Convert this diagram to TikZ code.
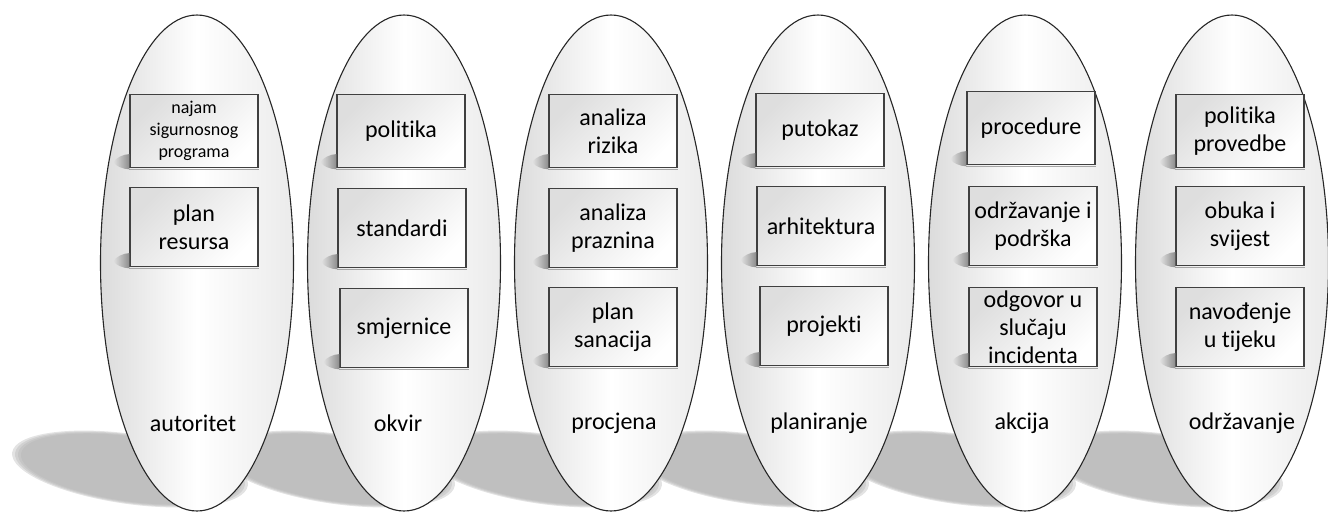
\documentclass[tikz,border=0pt]{standalone}
\usepackage{fontspec}
\setmainfont{Carlito}[Ligatures={NoCommon}]
\usetikzlibrary{shapes.geometric, fadings, positioning}
\tikzset{
  phase/.style={ellipse, draw=black!85, line width=0.55pt, inner sep=0pt,
    minimum width=96.5pt, minimum height=248pt,
    left color=black!14, right color=black!8, middle color=white},
  item/.style={rectangle, draw=black!75, line width=0.6pt, inner sep=0pt,
    minimum width=64pt, minimum height=39.5pt, align=center,
    font=\fontsize{12}{14}\selectfont,
    top color=black!13, bottom color=white, shading angle=45},
  toprow/.style={minimum height=36.5pt},
  phaselabel/.style={font=\fontsize{12}{14}\selectfont},
  itemshade/.style={fill=black!45, path fading=west},
}
\begin{document}
\begin{tikzpicture}[x=0.5pt, y=-0.5pt]
  \useasboundingbox (0,0) rectangle (1328,515);

  % ground shadows of the phases
  \foreach \cx in {197,404,611,818,1025,1232}{
    \foreach \s in {1,0.975,0.95,0.925}
      \fill[black!30, opacity=0.36, rotate around={-8:(\cx-67,469)}]
        (\cx-67,469) ellipse [x radius=119*\s, y radius=35*\s];
  }

  % phases
  \foreach \cx/\n in {197/aut,404/okv,611/pro,818/pla,1025/akc,1232/odr}
    \node[phase] (\n) at (\cx,263) {};

  \node[phaselabel] (laut) at (193,423) {autoritet};
  \node[phaselabel] (lokv) at (398,423) {okvir};
  \node[phaselabel] (lpro) at (614,423) {procjena};
  \node[phaselabel] (lpla) at (819,423) {planiranje};
  \node[phaselabel] (lakc) at (1022,423) {akcija};
  \node[phaselabel] (lodr) at (1242,423) {održavanje};

  % activities
  \node[item, toprow, font=\fontsize{9}{11}\selectfont] (aut1) at (194,131) {najam\\sigurnosnog\\programa};
  \node[item] (aut2) at (194,227) {plan\\resursa};

  \node[item, toprow] (okv1) at (401,131) {politika};
  \node[item] (okv2) at (402,228) {standardi};
  \node[item] (okv3) at (404,328) {smjernice};

  \node[item, toprow] (pro1) at (613,131) {analiza\\rizika};
  \node[item] (pro2) at (613,228) {analiza\\praznina};
  \node[item] (pro3) at (613,327) {plan\\sanacija};

  \node[item, toprow] (pla1) at (820,130) {putokaz};
  \node[item] (pla2) at (821,226) {arhitektura};
  \node[item] (pla3) at (824,326) {projekti};

  \node[item, toprow] (akc1) at (1031,128) {procedure};
  \node[item] (akc2) at (1033,226) {održavanje i\\podrška};
  \node[item] (akc3) at (1033,327) {odgovor u\\slučaju\\incidenta};

  \node[item, toprow] (odr1) at (1240,131) {politika\\provedbe};
  \node[item] (odr2) at (1240,226) {obuka i\\svijest};
  \node[item] (odr3) at (1240,327) {navođenje\\u tijeku};

  % small shadows at the lower left of the activities
  \foreach \b in {aut1,aut2,okv1,okv2,okv3,pro1,pro2,pro3,pla1,pla2,pla3,akc1,akc2,akc3,odr1,odr2,odr3}{
    \fill[itemshade] ([yshift=-0.6pt]\b.south west)
      .. controls +(-3pt,0pt) and +(1pt,-2pt) .. ([xshift=-8pt,yshift=3pt]\b.south west)
      .. controls +(1pt,2pt) and +(-3pt,0pt) .. ([yshift=7pt]\b.south west) -- cycle;
    \draw[black!35, line width=0.6pt] ([yshift=-0.8pt]\b.south west) -- ([yshift=-0.8pt]\b.south east);
  }
\end{tikzpicture}
\end{document}
